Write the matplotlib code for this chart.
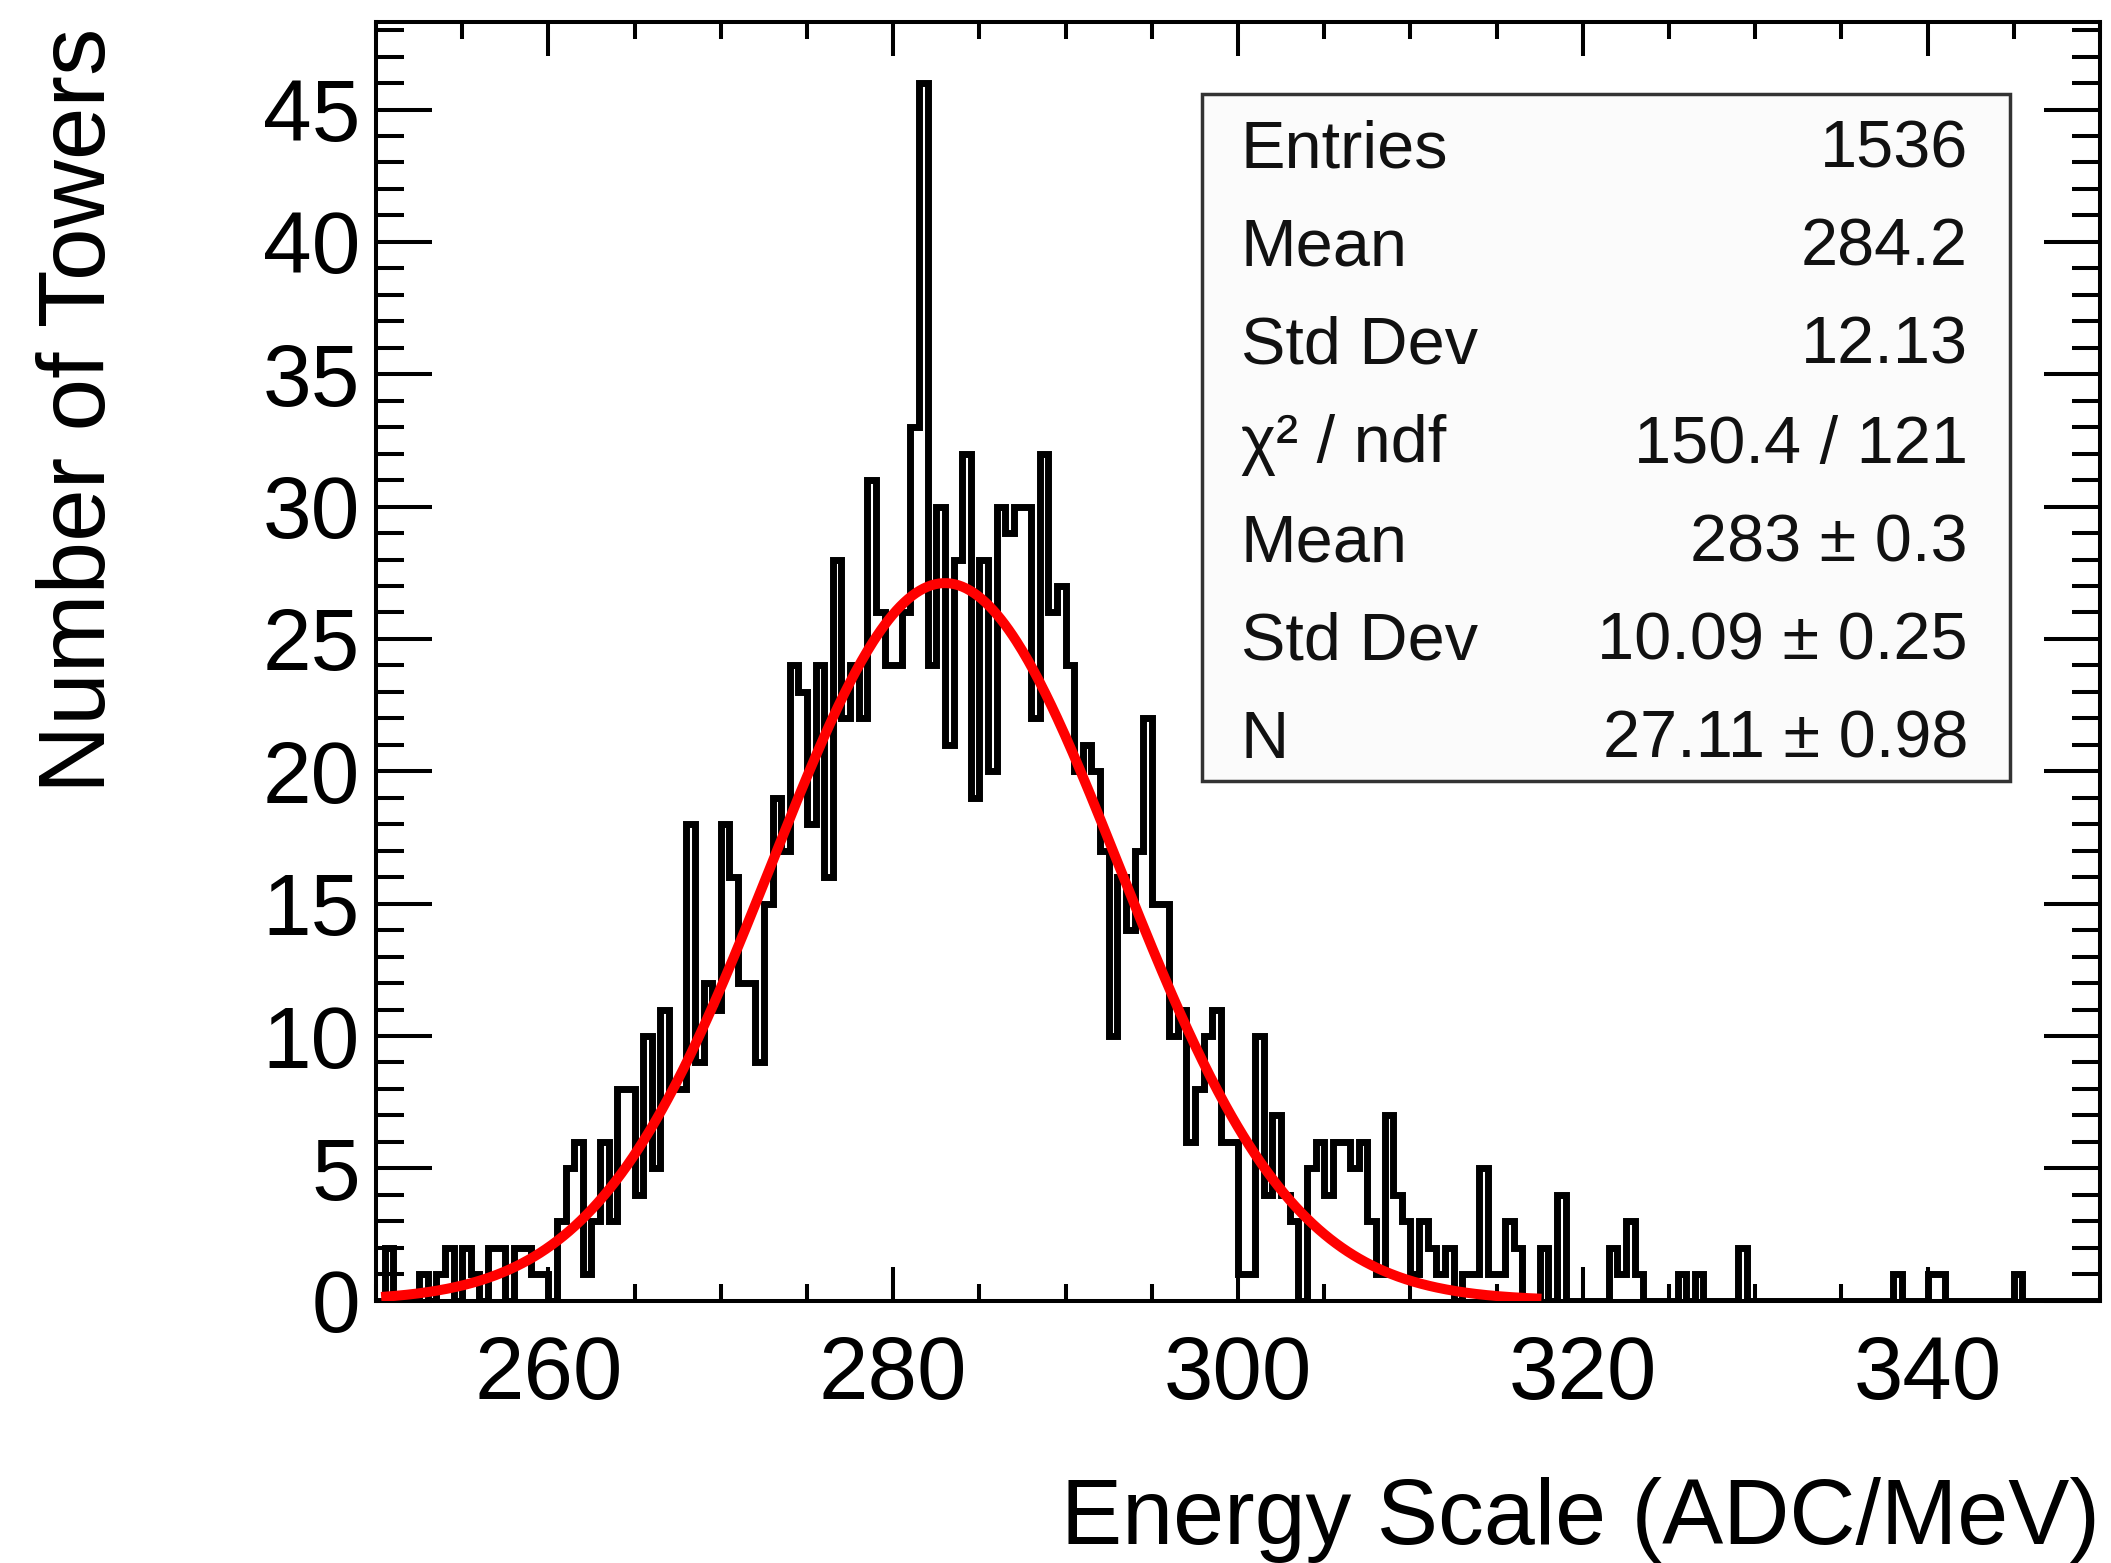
import matplotlib
matplotlib.use('Agg')
import matplotlib.pyplot as plt
import numpy as np
from matplotlib.patches import Rectangle
from matplotlib.ticker import MultipleLocator

plt.rcParams['font.family'] = ['Liberation Sans', 'DejaVu Sans']

# histogram binning: 200 bins of 0.5 between 250 and 350
x_lo, x_hi, n_bins = 250.0, 350.0, 200
y_top = 48.3

# towers per bin, 20 bins (10 ADC/MeV) per row
counts = [
    0, 2, 0, 0, 0, 1, 0, 1, 2, 0, 2, 1, 0, 2, 2, 0, 2, 2, 1, 1,                # 250-260
    0, 3, 5, 6, 1, 3, 6, 3, 8, 8, 4, 10, 5, 11, 8, 8, 18, 9, 12, 11,           # 260-270
    18, 16, 12, 12, 9, 15, 19, 17, 24, 23, 18, 24, 16, 28, 22, 24, 22, 31, 26, 24,  # 270-280
    24, 26, 33, 46, 24, 30, 21, 28, 32, 19, 28, 20, 30, 29, 30, 30, 22, 32, 26, 27,  # 280-290
    24, 20, 21, 20, 17, 10, 16, 14, 17, 22, 15, 15, 10, 11, 6, 8, 10, 11, 6, 6,  # 290-300
    1, 1, 10, 4, 7, 4, 3, 0, 5, 6, 4, 6, 6, 5, 6, 3, 1, 7, 4, 3,               # 300-310
    1, 3, 2, 1, 2, 0, 1, 1, 5, 1, 1, 3, 2, 0, 0, 2, 0, 4, 0, 0,                # 310-320
    0, 0, 0, 2, 1, 3, 1, 0, 0, 0, 0, 1, 0, 1, 0, 0, 0, 0, 2, 0,                # 320-330
    0, 0, 0, 0, 0, 0, 0, 0, 0, 0, 0, 0, 0, 0, 0, 0, 1, 0, 0, 0,                # 330-340
    1, 1, 0, 0, 0, 0, 0, 0, 0, 0, 1, 0, 0, 0, 0, 0, 0, 0, 0, 0,                # 340-350
]

# gaussian fit result
fit_n, fit_mean, fit_sigma = 27.11, 283.0, 10.09
fit_range = (250.3, 317.6)

stat_labels = ['Entries', 'Mean', 'Std Dev', 'χ² / ndf', 'Mean', 'Std Dev', 'N']
stat_values = ['1536', '284.2', '12.13', '150.4 / 121',
               '283 ± 0.3', '10.09 ± 0.25', '27.11 ± 0.98']

x_title = 'Energy Scale (ADC/MeV)'
y_title = 'Number of Towers'

fig = plt.figure(figsize=(21.11, 15.63), dpi=100)
ax = fig.add_axes([0.1781, 0.1678, 0.9948 - 0.1781, 0.9858 - 0.1678])

edges = np.linspace(x_lo, x_hi, n_bins + 1)
ax.stairs(counts, edges, color='black', linewidth=5.0, baseline=0, zorder=2)

xf = np.linspace(fit_range[0], fit_range[1], 600)
gaus = fit_n * np.exp(-0.5 * ((xf - fit_mean) / fit_sigma) ** 2)
ax.plot(xf, gaus, color='#ff0000', linewidth=7.2, solid_capstyle='butt', zorder=3)

ax.set_xlim(x_lo, x_hi)
ax.set_ylim(0, y_top)
ax.xaxis.set_major_locator(MultipleLocator(20))
ax.xaxis.set_minor_locator(MultipleLocator(5))
ax.yaxis.set_major_locator(MultipleLocator(5))
ax.yaxis.set_minor_locator(MultipleLocator(1))

for s in ax.spines.values():
    s.set_linewidth(2.9)

ax.tick_params(which='both', direction='in', top=True, right=True, width=2.9)
ax.tick_params(axis='x', which='major', length=24.5, pad=24, labelsize=64)
ax.tick_params(axis='x', which='minor', length=12.2)
ax.tick_params(axis='y', which='major', length=40, pad=11.5, labelsize=63)
ax.tick_params(axis='y', which='minor', length=20)

ax.set_xlabel(x_title, fontsize=66, loc='right')
ax.xaxis.label.set_va('baseline')
ax.xaxis.set_label_coords(1.0, -0.1903)

ax.set_ylabel(y_title, fontsize=68, loc='top')
ax.yaxis.label.set_va('baseline')
ax.yaxis.set_label_coords(-0.157, 0.996)

# stats box
bx0, bx1 = 1202 / 2111, 2010 / 2111
by0, by1 = 1 - 781 / 1563, 1 - 94 / 1563
fig.add_artist(Rectangle((bx0, by0), bx1 - bx0, by1 - by0, transform=fig.transFigure,
                         facecolor='#fbfbfb', edgecolor='#333333', linewidth=2.5,
                         zorder=5))

base0 = 167
row_step = 98.5
for i, (lab, val) in enumerate(zip(stat_labels, stat_values)):
    yb = 1 - (base0 + i * row_step) / 1563
    fig.text(1241 / 2111, yb, lab, fontsize=48, ha='left', va='baseline',
             color='#111111', zorder=6)
    fig.text(1968 / 2111, yb, val, fontsize=48, ha='right', va='baseline',
             color='#111111', zorder=6)

fig.savefig('out.png', dpi=100)
plt.close(fig)
